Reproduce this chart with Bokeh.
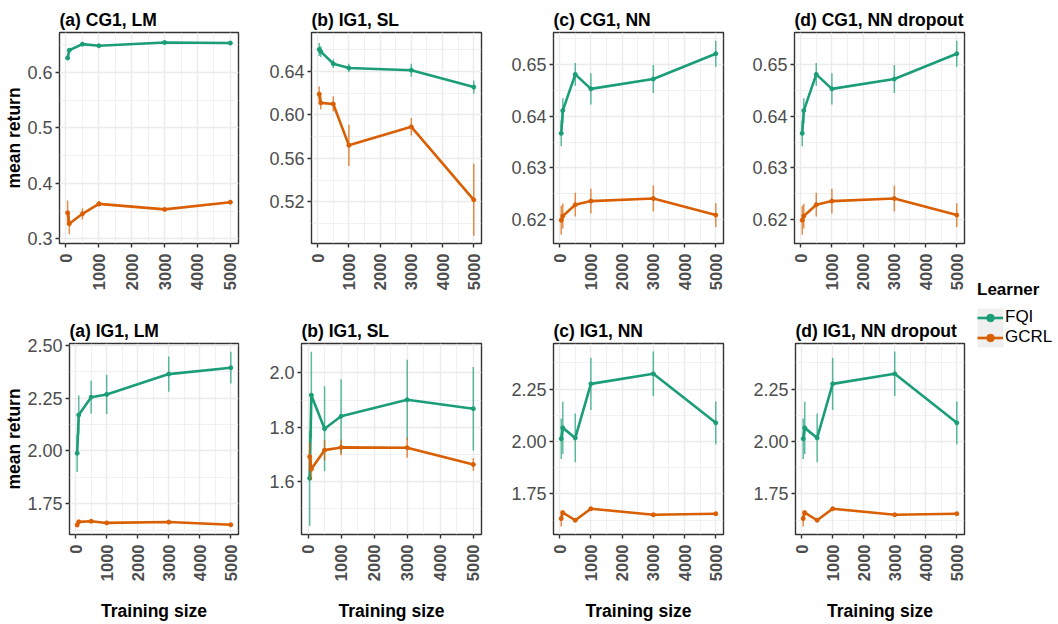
import numpy as np
from bokeh.plotting import figure
from bokeh.models import (Range1d, FixedTicker, PrintfTickFormatter, Legend,
                          LegendItem, BoxAnnotation)
from bokeh.layouts import row, column
from bokeh.embed import file_html
from bokeh.resources import INLINE

# ---------------- data ----------------
training_size = [50, 100, 500, 1000, 3000, 5000]
learners = ["FQI", "GCRL"]
colors = {"FQI": "#1B9E77", "GCRL": "#D95F02"}

titles = ["(a) CG1, LM", "(b) IG1, SL", "(c) CG1, NN", "(d) CG1, NN dropout",
          "(a) IG1, LM", "(b) IG1, SL", "(c) IG1, NN", "(d) IG1, NN dropout"]

x_ticks = [0, 1000, 2000, 3000, 4000, 5000]

# (a) CG1, LM
cg1_lm_fqi = [0.626, 0.640, 0.651, 0.648, 0.654, 0.653]
cg1_lm_fqi_se = [0.003, 0.003, 0.002, 0.002, 0.002, 0.002]
cg1_lm_gcrl = [0.347, 0.327, 0.345, 0.363, 0.353, 0.366]
cg1_lm_gcrl_se = [0.022, 0.019, 0.010, 0.005, 0.003, 0.003]
cg1_lm_yticks = [0.3, 0.4, 0.5, 0.6]

# (b) IG1, SL (top row)
top_sl_fqi = [0.660, 0.658, 0.647, 0.643, 0.641, 0.6255]
top_sl_fqi_se = [0.006, 0.005, 0.004, 0.004, 0.006, 0.006]
top_sl_gcrl = [0.619, 0.611, 0.610, 0.572, 0.589, 0.522]
top_sl_gcrl_se = [0.007, 0.006, 0.007, 0.019, 0.008, 0.033]
top_sl_yticks = [0.52, 0.56, 0.60, 0.64]

# (c) CG1, NN
cg1_nn_fqi = [0.6367, 0.6411, 0.6481, 0.6453, 0.6472, 0.6521]
cg1_nn_fqi_se = [0.0025, 0.0024, 0.0022, 0.0030, 0.0027, 0.0025]
cg1_nn_gcrl = [0.6199, 0.6207, 0.6229, 0.6236, 0.6241, 0.6209]
cg1_nn_gcrl_se = [0.0028, 0.0024, 0.0023, 0.0024, 0.0025, 0.0023]
cg1_nn_yticks = [0.62, 0.63, 0.64, 0.65]

# (d) CG1, NN dropout
cg1_nnd_fqi = [0.6367, 0.6411, 0.6481, 0.6453, 0.6472, 0.6521]
cg1_nnd_fqi_se = [0.0025, 0.0024, 0.0022, 0.0030, 0.0027, 0.0025]
cg1_nnd_gcrl = [0.6199, 0.6207, 0.6229, 0.6236, 0.6241, 0.6209]
cg1_nnd_gcrl_se = [0.0028, 0.0024, 0.0023, 0.0024, 0.0025, 0.0023]
cg1_nnd_yticks = [0.62, 0.63, 0.64, 0.65]

# (a) IG1, LM
ig1_lm_fqi = [1.989, 2.170, 2.254, 2.267, 2.363, 2.393]
ig1_lm_fqi_se = [0.088, 0.092, 0.078, 0.093, 0.083, 0.075]
ig1_lm_gcrl = [1.650, 1.665, 1.668, 1.660, 1.664, 1.651]
ig1_lm_gcrl_se = [0.008, 0.006, 0.006, 0.005, 0.005, 0.005]
ig1_lm_yticks = [1.75, 2.00, 2.25, 2.50]

# (b) IG1, SL
ig1_sl_fqi = [1.611, 1.918, 1.794, 1.840, 1.901, 1.868]
ig1_sl_fqi_se = [0.175, 0.160, 0.157, 0.137, 0.148, 0.154]
ig1_sl_gcrl = [1.691, 1.645, 1.715, 1.725, 1.724, 1.662]
ig1_sl_gcrl_se = [0.052, 0.040, 0.037, 0.029, 0.037, 0.023]
ig1_sl_yticks = [1.6, 1.8, 2.0]

# (c) IG1, NN
ig1_nn_fqi = [2.013, 2.065, 2.017, 2.275, 2.323, 2.089]
ig1_nn_fqi_se = [0.097, 0.125, 0.116, 0.125, 0.106, 0.102]
ig1_nn_gcrl = [1.632, 1.660, 1.624, 1.679, 1.650, 1.655]
ig1_nn_gcrl_se = [0.038, 0.010, 0.008, 0.008, 0.008, 0.006]
ig1_nn_yticks = [1.75, 2.00, 2.25]

# (d) IG1, NN dropout
ig1_nnd_fqi = [2.013, 2.065, 2.017, 2.275, 2.323, 2.089]
ig1_nnd_fqi_se = [0.097, 0.125, 0.116, 0.125, 0.106, 0.102]
ig1_nnd_gcrl = [1.632, 1.660, 1.624, 1.679, 1.650, 1.655]
ig1_nnd_gcrl_se = [0.038, 0.010, 0.008, 0.008, 0.008, 0.006]
ig1_nnd_yticks = [1.75, 2.00, 2.25]

# ---------------- styling / layout ----------------
FONT = "Liberation Sans"
GRID = "#EBEBEB"
DARK = "#333333"
TICKTXT = "#4D4D4D"

panels = [
    # title, fqi, fqi_se, gcrl, gcrl_se, yticks, fmt, yrange, width, left, right, row
    (titles[0], cg1_lm_fqi, cg1_lm_fqi_se, cg1_lm_gcrl, cg1_lm_gcrl_se, cg1_lm_yticks, "%.1f", (0.2915, 0.672), 250, 59, 12, 0),
    (titles[1], top_sl_fqi, top_sl_fqi_se, top_sl_gcrl, top_sl_gcrl_se, top_sl_yticks, "%.2f", (0.4819, 0.6756), 242, 61, 11, 0),
    (titles[2], cg1_nn_fqi, cg1_nn_fqi_se, cg1_nn_gcrl, cg1_nn_gcrl_se, cg1_nn_yticks, "%.2f", (0.6154, 0.6562), 242, 61, 11, 0),
    (titles[3], cg1_nnd_fqi, cg1_nnd_fqi_se, cg1_nnd_gcrl, cg1_nnd_gcrl_se, cg1_nnd_yticks, "%.2f", (0.6154, 0.6562), 238, 60, 8, 0),
    (titles[4], ig1_lm_fqi, ig1_lm_fqi_se, ig1_lm_gcrl, ig1_lm_gcrl_se, ig1_lm_yticks, "%.2f", (1.6053, 2.5075), 250, 69, 12, 1),
    (titles[5], ig1_sl_fqi, ig1_sl_fqi_se, ig1_sl_gcrl, ig1_sl_gcrl_se, ig1_sl_yticks, "%.1f", (1.4035, 2.1087), 242, 51, 11, 1),
    (titles[6], ig1_nn_fqi, ig1_nn_fqi_se, ig1_nn_gcrl, ig1_nn_gcrl_se, ig1_nn_yticks, "%.2f", (1.556, 2.4677), 242, 61, 11, 1),
    (titles[7], ig1_nnd_fqi, ig1_nnd_fqi_se, ig1_nnd_gcrl, ig1_nnd_gcrl_se, ig1_nnd_yticks, "%.2f", (1.556, 2.4677), 238, 61, 8, 1),
]

rows_cfg = [dict(height=300, top=32, bottom=57, standoff=6),
            dict(height=324, top=43, bottom=88, standoff=5)]

xs = np.array(training_size, dtype=float)
xpad = 0.05 * (xs.max() - xs.min())
x_minor = [(a + b) / 2 for a, b in zip(x_ticks[:-1], x_ticks[1:])]


def minor_of(ticks):
    step = ticks[1] - ticks[0]
    mids = [(a + b) / 2 for a, b in zip(ticks[:-1], ticks[1:])]
    return [ticks[0] - step / 2] + mids + [ticks[-1] + step / 2]


def make_panel(idx, cfg):
    (title, fqi, fqi_se, gcrl, gcrl_se, yticks, fmt, yr, width, left, right, r) = cfg
    rc = rows_cfg[r]
    p = figure(width=width, height=rc["height"], output_backend="svg",
               toolbar_location=None,
               x_range=Range1d(xs.min() - xpad, xs.max() + xpad),
               y_range=Range1d(*yr),
               min_border_left=left, min_border_right=right,
               min_border_top=rc["top"], min_border_bottom=rc["bottom"])
    p.background_fill_color = "white"
    p.border_fill_color = "white"
    p.outline_line_color = DARK
    p.outline_line_width = 1.4

    p.title.text = title
    p.title.text_font = FONT
    p.title.text_font_size = "17.5px"
    p.title.text_font_style = "bold"
    p.title.text_color = "black"
    p.title.standoff = rc["standoff"]
    p.title.offset = 0

    p.xaxis.ticker = FixedTicker(ticks=x_ticks, minor_ticks=x_minor)
    p.yaxis.ticker = FixedTicker(ticks=yticks, minor_ticks=minor_of(yticks))
    p.yaxis.formatter = PrintfTickFormatter(format=fmt)

    for ax in (p.xaxis, p.yaxis):
        ax.axis_line_color = None
        ax.major_tick_line_color = DARK
        ax.major_tick_line_width = 1.4
        ax.major_tick_out = 4
        ax.major_tick_in = 0
        ax.minor_tick_line_color = None
        ax.major_label_text_font = FONT
        ax.major_label_text_color = TICKTXT
        ax.axis_label_text_font = FONT
        ax.axis_label_text_font_size = "17.5px"
        ax.axis_label_text_font_style = "bold"
        ax.axis_label_text_color = "black"

    p.xaxis.major_label_orientation = np.pi / 2
    p.xaxis.major_label_text_font_size = "16.5px"
    p.xaxis.major_label_text_font_style = "bold"
    p.xaxis.major_label_standoff = 6
    p.yaxis.major_label_text_font_size = "18px"
    p.yaxis.major_label_standoff = 3
    p.yaxis.axis_label_standoff = 0
    p.xaxis.axis_label_standoff = 17

    if idx in (0, 4):
        p.yaxis.axis_label = "mean return"
    if r == 1:
        p.xaxis.axis_label = "Training size"

    p.grid.grid_line_color = GRID
    p.grid.grid_line_width = 1.4
    p.grid.minor_grid_line_color = GRID
    p.grid.minor_grid_line_width = 0.7

    for name, ys, se in (("FQI", fqi, fqi_se), ("GCRL", gcrl, gcrl_se)):
        y = np.array(ys)
        e = np.array(se)
        c = colors[name]
        p.segment(x0=xs, y0=y - e, x1=xs, y1=y + e, line_color=c,
                  line_width=1.5, line_alpha=0.7)
        p.line(xs, y, line_color=c, line_width=2.6)
        p.scatter(xs, y, size=4, color=c, marker="circle")
    return p


figs = [make_panel(i, cfg) for i, cfg in enumerate(panels)]

# ---------------- legend panel ----------------
LW, LH = 86, 624
lf = figure(width=LW, height=LH, output_backend="svg", toolbar_location=None,
            x_range=Range1d(0, LW), y_range=Range1d(0, LH),
            min_border=0, x_axis_location=None, y_axis_location=None)
lf.outline_line_color = None
lf.grid.visible = False
lf.background_fill_color = "white"
lf.border_fill_color = "white"

# grey key background (legend decoration)
lf.add_layout(BoxAnnotation(left=5, right=31, bottom=277, top=316,
                            fill_color="#EFEFEF", fill_alpha=1,
                            line_color=None, level="annotation"))

items = []
for name in learners:
    c = colors[name]
    rl = lf.line(x=[np.nan], y=[np.nan], line_color=c, line_width=2.6)
    rs = lf.scatter(x=[np.nan], y=[np.nan], size=4, color=c, marker="circle")
    items.append(LegendItem(label=name, renderers=[rl, rs]))

leg = Legend(items=items, location=(5, 277), title="Learner",
             orientation="vertical")
leg.title_text_font = FONT
leg.title_text_font_size = "17px"
leg.title_text_font_style = "bold"
leg.title_text_color = "black"
leg.title_standoff = 7
leg.label_text_font = FONT
leg.label_text_font_size = "17px"
leg.label_text_color = "black"
leg.label_standoff = 2
leg.glyph_width = 26
leg.glyph_height = 19
leg.label_height = 19
leg.spacing = 0
leg.padding = 0
leg.margin = 0
leg.border_line_color = None
leg.background_fill_alpha = 0
lf.add_layout(leg)

layout = row(column(row(*figs[:4]), row(*figs[4:])), lf)

open("out.html", "w").write(file_html(layout, INLINE))
